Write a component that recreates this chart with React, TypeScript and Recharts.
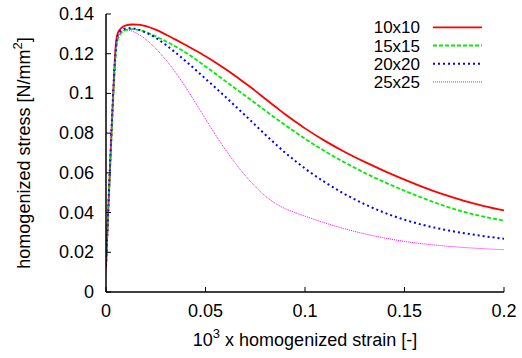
import React from 'react';
import { LineChart, Line, XAxis, YAxis, Legend, Label } from 'recharts';

// strain (x 10^3)
const strain = [0, 0.001, 0.002, 0.003, 0.004, 0.005, 0.006, 0.008, 0.01, 0.013, 0.016, 0.02, 0.025, 0.03, 0.035, 0.04, 0.045, 0.05, 0.055, 0.06, 0.065, 0.07, 0.075, 0.08, 0.085, 0.09, 0.095, 0.1, 0.11, 0.12, 0.13, 0.14, 0.15, 0.16, 0.17, 0.18, 0.19, 0.2];

const mesh10 = [0.012, 0.038, 0.062, 0.086, 0.108, 0.1255, 0.1305, 0.1332, 0.1343, 0.1347, 0.1346, 0.1339, 0.1321, 0.1297, 0.1271, 0.1244, 0.1216, 0.1187, 0.1156, 0.1123, 0.1088, 0.1051, 0.1013, 0.0973, 0.0934, 0.0895, 0.0859, 0.0824, 0.0761, 0.0705, 0.0655, 0.0609, 0.0566, 0.0526, 0.049, 0.0459, 0.0433, 0.0411];
const mesh15 = [0.015, 0.038, 0.061, 0.083, 0.104, 0.1205, 0.1275, 0.1308, 0.132, 0.1324, 0.132, 0.1309, 0.1287, 0.1263, 0.1236, 0.1206, 0.1172, 0.1136, 0.1099, 0.1062, 0.1025, 0.0988, 0.0951, 0.0914, 0.0877, 0.0841, 0.0806, 0.0772, 0.0709, 0.0652, 0.06, 0.0553, 0.051, 0.047, 0.0434, 0.0403, 0.0379, 0.036];
const mesh20 = [0.013, 0.038, 0.063, 0.087, 0.108, 0.123, 0.1295, 0.1318, 0.1327, 0.1328, 0.1322, 0.1307, 0.128, 0.1245, 0.1205, 0.1163, 0.1119, 0.1074, 0.1029, 0.0983, 0.0936, 0.0889, 0.0841, 0.0793, 0.0747, 0.0702, 0.0661, 0.0622, 0.0553, 0.0493, 0.0442, 0.0399, 0.0364, 0.0336, 0.0314, 0.0296, 0.0281, 0.0268];
const mesh25 = [0.009, 0.036, 0.062, 0.086, 0.107, 0.122, 0.1285, 0.1312, 0.132, 0.1314, 0.13, 0.1272, 0.1226, 0.117, 0.1105, 0.1032, 0.0953, 0.0872, 0.0792, 0.0717, 0.0648, 0.0586, 0.0531, 0.0484, 0.0447, 0.042, 0.04, 0.0382, 0.0348, 0.0318, 0.0293, 0.0272, 0.0255, 0.0242, 0.0232, 0.0224, 0.0218, 0.0213];

const seriesNames = ['10x10', '15x15', '20x20', '25x25'];
const xTicks = [0, 0.05, 0.1, 0.15, 0.2];
const yTicks = [0, 0.02, 0.04, 0.06, 0.08, 0.1, 0.12, 0.14];

const data = strain.map((x, i) => ({ x, s10: mesh10[i], s15: mesh15[i], s20: mesh20[i], s25: mesh25[i] }));

const SERIES = [
  { key: 's10', name: seriesNames[0], color: '#ff0000', dash: undefined, width: 1.8 },
  { key: 's15', name: seriesNames[1], color: '#00ee00', dash: '4 2', width: 1.8 },
  { key: 's20', name: seriesNames[2], color: '#0000ff', dash: '2 3', width: 2 },
  { key: 's25', name: seriesNames[3], color: '#ff00ff', dash: '1 1', width: 1 },
];

const FONT = '"Liberation Sans", Arial, sans-serif';
const TICK = 5;

const BottomTick = (p: any) => (
  <g>
    <line x1={p.x} x2={p.x} y1={p.y} y2={p.y - TICK} stroke="#000" strokeWidth={1} />
    <text x={p.x} y={p.y + 25} textAnchor="middle" fontSize={18} fontFamily={FONT} fill="#000">{String(p.payload.value)}</text>
  </g>
);
const TopTick = (p: any) => (
  <line x1={p.x} x2={p.x} y1={p.y} y2={p.y + TICK} stroke="#000" strokeWidth={1} />
);
const LeftTick = (p: any) => (
  <g>
    <line x1={p.x} x2={p.x + TICK} y1={p.y} y2={p.y} stroke="#000" strokeWidth={1} />
    <text x={p.x - 12} y={p.y + 6} textAnchor="end" fontSize={18} fontFamily={FONT} fill="#000">{String(p.payload.value)}</text>
  </g>
);
const RightTick = (p: any) => (
  <line x1={p.x} x2={p.x - TICK} y1={p.y} y2={p.y} stroke="#000" strokeWidth={1} />
);

const LegendBox = () => (
  <svg width={522} height={100} style={{ display: 'block' }}>
    {SERIES.map((s, i) => {
      const cy = 27.3 + i * 18.2;
      return (
        <g key={s.key}>
          <text x={420} y={cy + 6} textAnchor="end" fontSize={17} fontFamily={FONT} fill="#000">{s.name}</text>
          <line x1={433} x2={482} y1={cy} y2={cy} stroke={s.color} strokeWidth={s.width} strokeDasharray={s.dash} />
        </g>
      );
    })}
  </svg>
);

export default function App() {
  return (
    <div style={{ position: 'absolute', left: 0, top: 0, width: 522, height: 358, background: '#fff' }}>
      <LineChart width={522} height={358} data={data} margin={{ top: 14, right: 18, left: 0, bottom: 0 }}>
        <XAxis
          dataKey="x"
          type="number"
          domain={[0, 0.2]}
          ticks={xTicks}
          allowDataOverflow
          height={66}
          tickSize={0}
          tickMargin={0}
          tickLine={false}
          axisLine={{ stroke: '#000', strokeWidth: 1.5 }}
          tick={BottomTick}
          interval={0}
        >
          <Label
            content={(props: any) => {
              const vb = props.viewBox || {};
              const cx = vb.x + vb.width / 2;
              return (
                <text x={cx} y={vb.y + 54} textAnchor="middle" fontSize={18} fontFamily={FONT} fill="#000">
                  10<tspan fontSize={13} dy={-8}>3</tspan><tspan dy={8}> x homogenized strain [-]</tspan>
                </text>
              );
            }}
          />
        </XAxis>
        <XAxis
          xAxisId="top"
          orientation="top"
          type="number"
          domain={[0, 0.2]}
          ticks={xTicks}
          allowDataOverflow
          height={0}
          tickSize={0}
          tickMargin={0}
          tickLine={false}
          axisLine={{ stroke: '#000', strokeWidth: 1.5 }}
          tick={TopTick}
          interval={0}
        />
        <YAxis
          type="number"
          domain={[0, 0.14]}
          ticks={yTicks}
          allowDataOverflow
          width={106}
          tickSize={0}
          tickMargin={0}
          tickLine={false}
          axisLine={{ stroke: '#000', strokeWidth: 1.5 }}
          tick={LeftTick}
          interval={0}
        >
          <Label
            content={(props: any) => {
              const vb = props.viewBox || {};
              const cx = 30;
              const cy = vb.y + vb.height / 2;
              return (
                <text x={cx} y={cy} textAnchor="middle" fontSize={18} fontFamily={FONT} fill="#000" transform={`rotate(-90, ${cx}, ${cy})`}>
                  homogenized stress [N/mm<tspan fontSize={13} dy={-8}>2</tspan><tspan dy={8}>]</tspan>
                </text>
              );
            }}
          />
        </YAxis>
        <YAxis
          yAxisId="right"
          orientation="right"
          type="number"
          domain={[0, 0.14]}
          ticks={yTicks}
          allowDataOverflow
          width={0}
          tickSize={0}
          tickMargin={0}
          tickLine={false}
          axisLine={{ stroke: '#000', strokeWidth: 1.5 }}
          tick={RightTick}
          interval={0}
        />
        <Legend
          content={LegendBox}
          layout="horizontal"
          verticalAlign="middle"
          align="center"
          wrapperStyle={{ left: 0, top: 0, width: 522, height: 100 }}
        />
        {SERIES.map((s) => (
          <Line
            key={s.key}
            type="monotone"
            dataKey={s.key}
            name={s.name}
            stroke={s.color}
            strokeWidth={s.width}
            strokeDasharray={s.dash}
            dot={false}
            activeDot={false}
            isAnimationActive={false}
          />
        ))}
      </LineChart>
    </div>
  );
}
